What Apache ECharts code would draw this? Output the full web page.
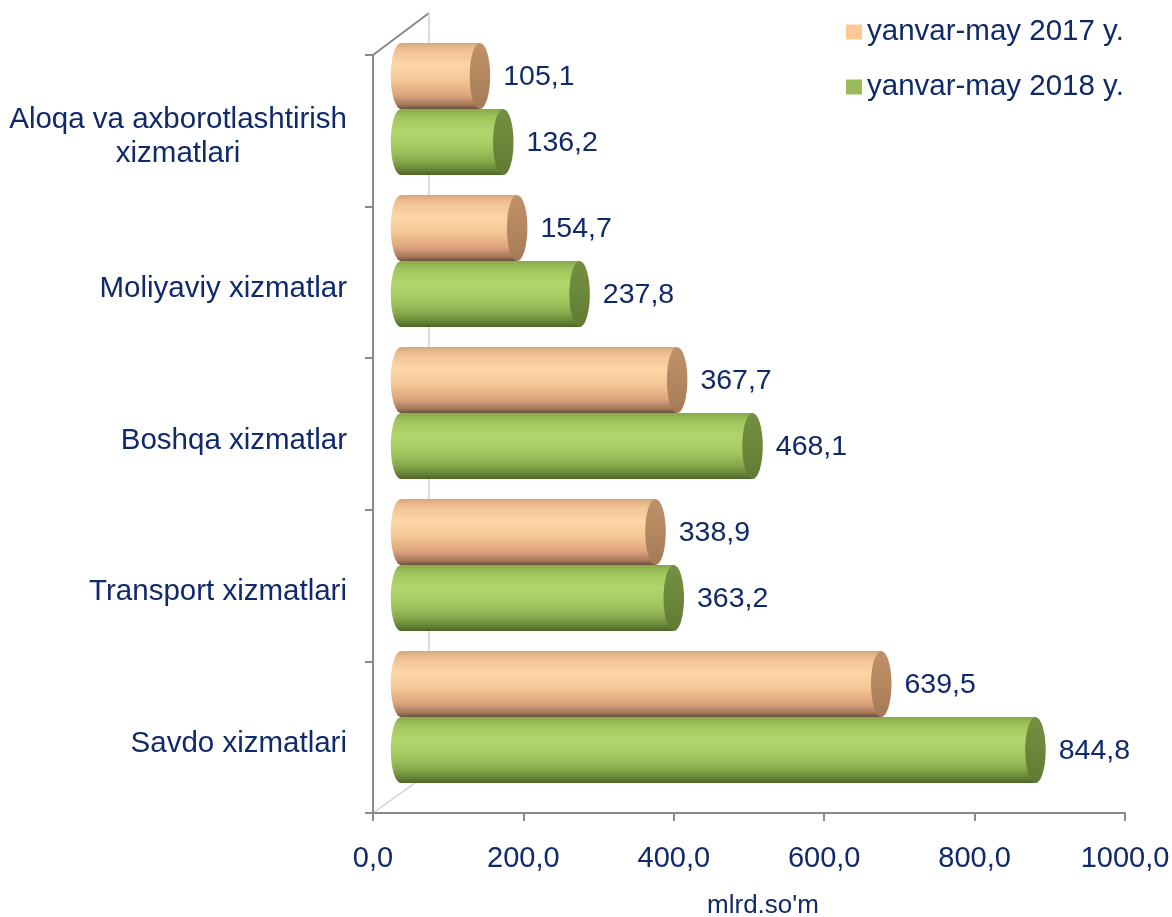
<!DOCTYPE html>
<html lang="uz">
<head>
	<meta charset="UTF-8">
	<title>Xizmatlar</title>
	<script type="text/javascript" src="https://cdn.jsdelivr.net/npm/echarts@6/dist/echarts.min.js"></script>
	<style type="text/css">
	html, body{margin: 0; padding: 0; background: #fff;}
	#container{width: 1172px; height: 917px;}
	</style>
</head>
<body>
	<div id="container"></div>
	<script type="text/javascript">
		// ma'lumotlar (yuqoridan pastga)
		var categories = ['Aloqa va axborotlashtirish\nxizmatlari', 'Moliyaviy xizmatlar', 'Boshqa xizmatlar', 'Transport xizmatlari', 'Savdo xizmatlari'];
		var seriesNames = ['yanvar-may 2017 y.', 'yanvar-may 2018 y.'];
		var v2017 = [105.1, 154.7, 367.7, 338.9, 639.5];
		var v2018 = [136.2, 237.8, 468.1, 363.2, 844.8];
		var xTicks = [0, 200, 400, 600, 800, 1000];

		var navy = '#10296b';
		var font = '"Liberation Sans", Arial, sans-serif';

		function fmt(v){
			return v.toFixed(1).replace('.', ',');
		}

		function grad(stops){
			return {type: 'linear', x: 0, y: 0, x2: 0, y2: 1, colorStops: stops.map(function(s){ return {offset: s[0], color: s[1]}; })};
		}

		var orangeBody = grad([[0,'#d9a47c'],[0.12,'#f1c394'],[0.35,'#fdd6a6'],[0.6,'#f3c291'],[0.8,'#daa27b'],[0.93,'#a77a5c'],[1,'#6e4d3c']]);
		var orangeCap = grad([[0,'#be916a'],[0.5,'#b4875f'],[1,'#a47955']]);
		var greenBody = grad([[0,'#86a84a'],[0.12,'#a0c55c'],[0.35,'#b2d66c'],[0.6,'#a3c760'],[0.8,'#86a64b'],[0.93,'#637f34'],[1,'#4a6226']]);
		var greenCap = grad([[0,'#748f40'],[0.5,'#6b873a'],[1,'#5f7a33']]);

		// silindr ko'rinishidagi ustun
		function cylinder(bodyFill, capFill, upper){
			return function(params, api){
				var val = api.value(0);
				var cat = api.value(1);
				var start = api.coord([0, cat]);
				var end = api.coord([val, cat]);
				var band = api.size([0, 1])[1];
				var h = band * 0.435;
				var yT = upper ? start[1] - h : start[1];
				var yB = yT + h;
				var ry = h / 2, rx = h * 0.155;
				var cy = yT + ry;
				var x0 = start[0], x1 = end[0];
				var body = 'M' + x0 + ' ' + yT + 'L' + x1 + ' ' + yT + 'L' + x1 + ' ' + yB + 'L' + x0 + ' ' + yB +
					'A' + rx + ' ' + ry + ' 0 0 1 ' + x0 + ' ' + yT + 'Z';
				var cap = 'M' + (x1 - rx) + ' ' + cy + 'A' + rx + ' ' + ry + ' 0 1 0 ' + (x1 + rx) + ' ' + cy +
					'A' + rx + ' ' + ry + ' 0 1 0 ' + (x1 - rx) + ' ' + cy + 'Z';
				return {
					type: 'group',
					children: [
						{type: 'path', shape: {pathData: body}, style: {fill: bodyFill}},
						{type: 'path', shape: {pathData: cap}, style: {fill: capFill}},
						{type: 'text', x: x1 + rx + 13, y: cy + 1, style: {text: fmt(val), fill: navy, fontSize: 28.5, fontFamily: font, align: 'left', verticalAlign: 'middle'}}
					]
				};
			};
		}

		function toData(arr){
			return arr.map(function(v, i){ return [v, i]; });
		}

		var dom = document.getElementById('container');
		var myChart = echarts.init(dom, null, {renderer: 'canvas'});
		var option = {
			animation: false,
			textStyle: {fontFamily: font},
			legend: {
				orient: 'vertical',
				left: 846,
				top: 17,
				padding: 0,
				itemWidth: 16,
				itemHeight: 15,
				itemGap: 25,
				icon: 'rect',
				data: seriesNames,
				textStyle: {fontSize: 29.5, color: navy, fontFamily: font}
			},
			grid: [
				{left: 373, right: 47, top: 55, bottom: 104, outerBoundsMode: 'none'},
				{left: 401, right: 20, top: 33, bottom: 124, outerBoundsMode: 'none'}
			],
			xAxis: [
				{
					gridIndex: 0, type: 'value', min: 0, max: 1000, interval: 200,
					name: "mlrd.so'm", nameLocation: 'middle', nameGap: 80,
					nameTextStyle: {fontSize: 26, color: navy, fontFamily: font, padding: [0, 0, 0, 28]},
					axisLine: {show: true, lineStyle: {color: '#8a8a8a', width: 2}},
					axisTick: {show: true, length: 8, lineStyle: {color: '#8a8a8a', width: 2}},
					axisLabel: {fontSize: 29, color: navy, margin: 31, fontFamily: font,
						formatter: function(v){ return xTicks.indexOf(v) >= 0 ? fmt(v) : ''; }},
					splitLine: {show: false}
				},
				{gridIndex: 1, type: 'value', min: 0, max: 1000, show: false}
			],
			yAxis: [
				{
					gridIndex: 0, type: 'category', inverse: true, data: categories,
					axisLine: {show: true, lineStyle: {color: '#8a8a8a', width: 2}},
					axisTick: {show: true, length: 8, lineStyle: {color: '#8a8a8a', width: 2}},
					axisLabel: {
						margin: 26,
						padding: [13, 0, 0, 0],
						formatter: function(v){ return v.split('\n').map(function(s){ return '{c|' + s + '}'; }).join('\n'); },
						rich: {c: {align: 'center', fontSize: 29.5, lineHeight: 34, color: navy, fontFamily: font}}
					}
				},
				{gridIndex: 1, type: 'category', inverse: true, data: categories, show: false}
			],
			graphic: [
				{type: 'line', z: 0, shape: {x1: 373, y1: 55, x2: 429, y2: 13}, style: {stroke: '#8a8a8a', lineWidth: 2}},
				{type: 'line', z: 0, shape: {x1: 429, y1: 13, x2: 429, y2: 773}, style: {stroke: '#cfcfcf', lineWidth: 1.5}},
				{type: 'line', z: 0, shape: {x1: 373, y1: 813, x2: 429, y2: 773}, style: {stroke: '#cfcfcf', lineWidth: 1.5}}
			],
			series: [
				{
					name: seriesNames[0], type: 'custom', xAxisIndex: 1, yAxisIndex: 1,
					itemStyle: {color: '#fdc895'},
					encode: {x: 0, y: 1},
					renderItem: cylinder(orangeBody, orangeCap, true),
					data: toData(v2017)
				},
				{
					name: seriesNames[1], type: 'custom', xAxisIndex: 1, yAxisIndex: 1,
					itemStyle: {color: '#9bbb59'},
					encode: {x: 0, y: 1},
					renderItem: cylinder(greenBody, greenCap, false),
					data: toData(v2018)
				}
			]
		};
		myChart.setOption(option);
	</script>
</body>
</html>
